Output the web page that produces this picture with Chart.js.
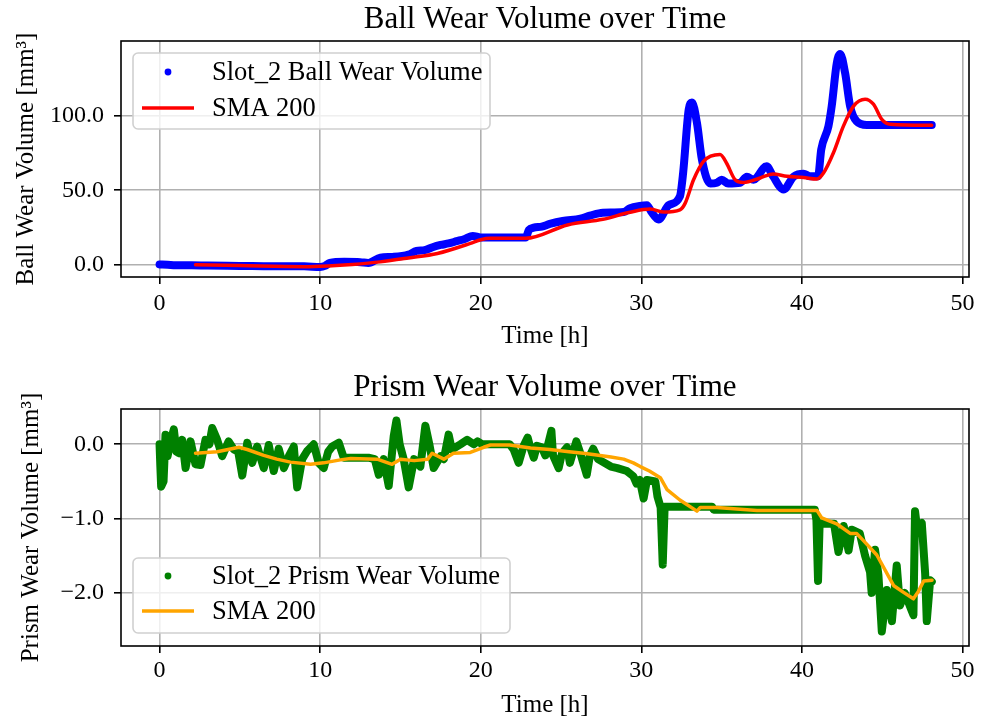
<!DOCTYPE html>
<html><head><meta charset="utf-8">
<script src="https://cdn.jsdelivr.net/npm/chart.js@4.4.1/dist/chart.umd.min.js"></script>
<style>
html,body{margin:0;padding:0;background:#fff;}
#wrap{position:relative;width:988px;height:718px;overflow:hidden;}
.cv{position:absolute;left:0;}
</style></head><body>
<div id="wrap">
<canvas id="c1" class="cv" width="988" height="359" style="top:0"></canvas>
<canvas id="c2" class="cv" width="988" height="359" style="top:359px"></canvas>
</div>
<script>
// ---------- data ----------
const TIME_TICKS = [0, 10, 20, 30, 40, 50];
const BALL_TICKS = [0, 50, 100];
const PRISM_TICKS = [0, -1, -2];

const BALL_TIME = [0, 0.5, 1, 2, 3, 5, 7, 9, 10, 10.3, 10.6, 11.5, 12.5, 13, 13.75, 14.5, 15.5, 16, 16.5, 17, 17.5, 18, 18.5, 19, 19.5, 20, 22.8, 23.0, 23.3, 23.8, 24.3, 25.1, 26.2, 26.8, 27.6, 28.9, 29.3, 29.9, 30.35, 30.6, 31.07, 31.7, 32.4, 32.6, 32.95, 33.15, 33.46, 33.77, 34.3, 34.7, 35.0, 35.4, 36.15, 36.57, 36.98, 37.8, 38.2, 38.85, 39.5, 40.1, 40.5, 41.0, 41.2, 41.65, 41.85, 42.17, 42.38, 42.69, 43.0, 43.4, 44.04, 48.08];
const BALL_VOLUME = [0.5, 0.3, 0, 0, -0.3, -0.5, -0.8, -0.8, -1.2, -0.5, 1.5, 2.2, 2.0, 1.5, 5, 5.5, 7, 9.5, 10, 12, 13.5, 14.5, 16, 17.5, 19.5, 18.5, 18.5, 23.5, 25, 25.7, 27.5, 29.5, 31, 33, 35, 35.5, 38, 39.5, 40, 36, 30.5, 40, 45.9, 61.5, 104, 108.5, 95, 70.5, 54.5, 55, 57, 54.5, 55, 59, 57, 66, 59.3, 50.5, 59.3, 61, 59.3, 59.3, 77.2, 92.8, 106, 135, 141, 128, 106, 96, 93.5, 93.5];

const BALL_SMA_TIME = [2.24, 5, 9, 10.5, 12, 13.75, 15.5, 17.3, 19.35, 20, 20.6, 22.8, 25.4, 27.6, 29.3, 30.55, 31.4, 32.4, 32.73, 33.25, 33.87, 34.9, 35.3, 35.84, 36.36, 37.4, 38.2, 39.06, 40.1, 40.93, 41.34, 41.96, 42.58, 43.2, 43.93, 44.45, 44.97, 45.5, 48.08];
const BALL_SMA = [0.2, -0.3, -1, -0.5, 0.5, 2.2, 4.8, 7.8, 14.5, 17, 17.9, 17.9, 26.8, 30.6, 35.3, 37.4, 35.4, 36.9, 41.4, 57, 69.3, 73.8, 68.2, 57, 55.2, 58.2, 60.9, 59.3, 58.5, 57.5, 61.5, 75, 92.8, 106, 110.7, 107.4, 97.3, 94, 93.3];

const PRISM_TIME = [0, 0.05, 0.1, 0.25, 0.37, 0.5, 0.7, 0.89, 1.05, 1.2, 1.41, 1.62, 1.93, 2.24, 2.55, 2.86, 3.1, 3.28, 3.59, 3.9, 4.3, 4.62, 4.9, 5.15, 5.46, 5.77, 6.08, 6.49, 6.8, 7.11, 7.42, 7.74, 8.05, 8.36, 8.57, 8.88, 9.19, 9.6, 9.91, 10.22, 10.5, 10.75, 11.16, 11.47, 12.2, 13.0, 13.4, 13.65, 13.95, 14.27, 14.58, 14.75, 14.95, 15.2, 15.51, 15.85, 16.24, 16.55, 16.8, 17.07, 17.5, 17.7, 18.0, 18.2, 18.73, 19.15, 19.56, 19.8, 20.1, 21.8, 22.05, 22.36, 22.67, 22.92, 23.08, 23.3, 23.5, 23.8, 24.02, 24.4, 24.5, 24.85, 25.06, 25.37, 25.55, 25.95, 26.2, 26.6, 26.8, 27.0, 27.3, 28.1, 28.5, 29.1, 29.5, 29.7, 29.9, 30.14, 30.35, 30.87, 31.0, 31.2, 31.33, 31.45, 34.4, 34.5, 40.8, 40.9, 41.0, 41.1, 41.6, 42.0, 42.27, 42.6, 42.9, 43.1, 43.6, 43.93, 44.24, 44.34, 44.55, 44.76, 44.97, 45.28, 45.6, 45.9, 46.1, 46.4, 46.76, 46.94, 47.04, 47.15, 47.46, 47.67, 47.77, 47.98, 48.08];
const PRISM_VOLUME = [0.0, -0.3, -0.57, -0.5, 0.13, -0.16, 0.05, 0.2, -0.1, -0.12, 0.06, -0.32, 0.04, -0.27, -0.28, 0.06, 0.0, 0.22, 0.06, -0.16, 0.04, -0.07, -0.1, -0.42, 0.02, -0.25, -0.03, -0.32, -0.01, -0.36, -0.06, -0.32, -0.16, -0.03, -0.58, -0.2, -0.09, 0.0, -0.25, -0.32, -0.1, -0.03, 0.02, -0.18, -0.18, -0.18, -0.2, -0.41, -0.2, -0.56, 0.11, 0.32, 0.0, -0.2, -0.58, -0.2, -0.3, 0.25, 0.0, -0.32, -0.16, -0.2, 0.13, -0.07, 0.0, 0.06, 0.0, 0.04, 0.0, 0.0, -0.07, -0.25, -0.02, 0.09, -0.04, -0.18, -0.02, -0.04, -0.15, 0.18, -0.15, -0.32, -0.12, -0.04, -0.25, 0.04, -0.12, -0.41, -0.15, -0.06, -0.2, -0.3, -0.32, -0.36, -0.43, -0.53, -0.48, -0.73, -0.48, -0.5, -0.7, -0.85, -1.62, -0.84, -0.84, -0.88, -0.88, -1.02, -1.84, -1.06, -1.07, -1.07, -1.45, -1.1, -1.43, -1.15, -1.2, -1.5, -1.72, -2.0, -1.42, -1.76, -2.52, -1.96, -2.38, -1.63, -2.17, -2.0, -2.2, -2.3, -0.9, -1.1, -1.06, -1.74, -2.38, -1.83, -1.85];

const PRISM_SMA_TIME = [2.24, 3.59, 4.94, 5.46, 6.49, 7.3, 8.15, 9.4, 10.22, 11.26, 11.9, 13.55, 14.48, 15.0, 15.85, 16.7, 16.97, 17.7, 18.3, 19.35, 20.18, 20.6, 21.8, 23.1, 24.3, 25.5, 26.4, 27.1, 28.1, 28.9, 29.5, 29.93, 30.5, 31.18, 31.6, 32.4, 33.46, 33.67, 34.7, 37.2, 40.93, 41.23, 42.16, 43.0, 43.4, 43.8, 44.66, 45.7, 46.3, 46.94, 47.25, 47.58, 48.1];
const PRISM_SMA = [-0.12, -0.1, -0.04, -0.07, -0.15, -0.2, -0.24, -0.27, -0.25, -0.21, -0.19, -0.2, -0.27, -0.2, -0.22, -0.2, -0.12, -0.2, -0.12, -0.11, -0.04, -0.01, -0.01, -0.05, -0.07, -0.1, -0.12, -0.14, -0.17, -0.2, -0.25, -0.3, -0.36, -0.45, -0.61, -0.75, -0.9, -0.85, -0.85, -0.89, -0.89, -0.99, -1.07, -1.2, -1.2, -1.29, -1.49, -1.9, -1.99, -2.08, -1.98, -1.84, -1.83];

// ---------- helpers ----------
const SERIF = "'Liberation Serif', 'Times New Roman', serif";
const pts = (xs, ys) => xs.map((x, i) => ({x: x, y: ys[i]}));
const fmt1 = v => { const s = Math.abs(v).toFixed(1); return (v < -1e-9 ? '\u2212' : '') + s; };

function roundRect(ctx, x, y, w, h, r) {
  ctx.beginPath();
  ctx.moveTo(x + r, y);
  ctx.lineTo(x + w - r, y); ctx.arcTo(x + w, y, x + w, y + r, r);
  ctx.lineTo(x + w, y + h - r); ctx.arcTo(x + w, y + h, x + w - r, y + h, r);
  ctx.lineTo(x + r, y + h); ctx.arcTo(x, y + h, x, y + h - r, r);
  ctx.lineTo(x, y + r); ctx.arcTo(x, y, x + r, y, r);
  ctx.closePath();
}

const framePlugin = {
  id: 'frameLegend',
  afterDraw(chart, args, o) {
    const ctx = chart.ctx, a = chart.chartArea;
    ctx.save();
    ctx.strokeStyle = '#000'; ctx.lineWidth = 1.6;
    ctx.strokeRect(a.left, a.top, a.right - a.left, a.bottom - a.top);
    // legend box
    roundRect(ctx, o.x, o.y, o.w, o.h, 5);
    ctx.fillStyle = 'rgba(255,255,255,0.8)'; ctx.fill();
    ctx.strokeStyle = '#d0d0d0'; ctx.lineWidth = 1.6; ctx.stroke();
    ctx.font = '26.5px ' + SERIF; ctx.fillStyle = '#000';
    ctx.textBaseline = 'middle'; ctx.textAlign = 'left';
    const ds = chart.data.datasets;
    o.order.forEach((di, i) => {
      const d = ds[di];
      const cy = o.y + o.first + i * o.step;
      if (d.legendKind === 'dot') {
        ctx.fillStyle = d.borderColor;
        ctx.beginPath(); ctx.arc(168, cy, 3.4, 0, Math.PI * 2); ctx.fill();
      } else {
        ctx.strokeStyle = d.borderColor; ctx.lineWidth = 3.5;
        ctx.beginPath(); ctx.moveTo(142, cy); ctx.lineTo(194, cy); ctx.stroke();
      }
      ctx.fillStyle = '#000';
      ctx.fillText(d.label, 212, cy + 1);
    });
    ctx.restore();
  }
};

function makeChart(id, c) {
  return new Chart(document.getElementById(id), {
    type: 'line',
    data: {
      datasets: [
        {label: 'SMA 200', data: pts(c.smaT, c.smaV), borderColor: c.smaColor, borderWidth: 3.5,
         pointRadius: 0, tension: 0, cubicInterpolationMode: c.smaSmooth ? 'monotone' : 'default',
         legendKind: 'line', order: 0, borderJoinStyle: 'round', borderCapStyle: 'round'},
        {label: c.rawLabel, data: pts(c.rawT, c.rawV), borderColor: c.rawColor, backgroundColor: c.rawColor,
         borderWidth: 8, pointRadius: 0, tension: 0, cubicInterpolationMode: c.rawSmooth ? 'monotone' : 'default',
         legendKind: 'dot', order: 1, borderJoinStyle: 'round', borderCapStyle: 'round'}
      ]
    },
    options: {
      responsive: false, animation: false, events: [],
      layout: {padding: {left: 0, right: 19, top: 0, bottom: 0}},
      plugins: {
        legend: {display: false}, tooltip: {enabled: false},
        title: {display: true, text: c.title, fullSize: false, color: '#000',
                font: {family: SERIF, size: 31, weight: 'normal', lineHeight: 1},
                padding: {top: c.titlePadTop, bottom: c.titlePadBottom}},
        frameLegend: c.legend
      },
      scales: {
        x: {
          type: 'linear', min: -2.4, max: 50.4,
          afterBuildTicks: s => { s.ticks = TIME_TICKS.map(v => ({value: v})); },
          afterFit: s => { s.height = c.xHeight; },
          border: {display: false},
          grid: {color: '#b0b0b0', lineWidth: 1.6, tickColor: '#000', tickWidth: 1.6, tickLength: 7, drawTicks: true},
          ticks: {color: '#000', font: {family: SERIF, size: 24, lineHeight: 1.2}, padding: c.xTickPad,
                  maxRotation: 0, autoSkip: false, callback: v => String(v)},
          title: {display: true, text: 'Time [h]', color: '#000',
                  font: {family: SERIF, size: 25, lineHeight: 1}, padding: {top: 0, bottom: c.xTitlePad}}
        },
        y: {
          type: 'linear', min: c.yMin, max: c.yMax,
          afterBuildTicks: s => { s.ticks = c.yTicks.map(v => ({value: v})); },
          afterFit: s => { s.width = 121; },
          border: {display: false},
          grid: {color: '#b0b0b0', lineWidth: 1.6, tickColor: '#000', tickWidth: 1.6, tickLength: 7, drawTicks: true},
          ticks: {color: '#000', font: {family: SERIF, size: 24}, padding: 10, autoSkip: false, callback: fmt1},
          title: {display: true, text: c.yLabel, color: '#000',
                  font: {family: SERIF, size: 25, lineHeight: 1}, padding: {top: c.yTitlePad, bottom: 0}}
        }
      }
    },
    plugins: [framePlugin]
  });
}

makeChart('c1', {
  title: 'Ball Wear Volume over Time', titlePadTop: 4.5, titlePadBottom: 5.5,
  rawLabel: 'Slot_2 Ball Wear Volume', rawT: BALL_TIME, rawV: BALL_VOLUME, rawColor: '#0000ff', rawSmooth: true,
  smaT: BALL_SMA_TIME, smaV: BALL_SMA, smaColor: '#ff0000', smaSmooth: true,
  yMin: -7.9, yMax: 149.6, yTicks: BALL_TICKS, yLabel: 'Ball Wear Volume [mm\u00b3]', yTitlePad: 14,
  xHeight: 82, xTickPad: 5, xTitlePad: 10.5,
  legend: {x: 133, y: 53, w: 357, h: 76, first: 19, step: 36, order: [1, 0]}
});
makeChart('c2', {
  title: 'Prism Wear Volume over Time', titlePadTop: 13.3, titlePadBottom: 5.7,
  rawLabel: 'Slot_2 Prism Wear Volume', rawT: PRISM_TIME, rawV: PRISM_VOLUME, rawColor: '#008000', rawSmooth: false,
  smaT: PRISM_SMA_TIME, smaV: PRISM_SMA, smaColor: '#ffa500', smaSmooth: false,
  yMin: -2.715, yMax: 0.475, yTicks: PRISM_TICKS, yLabel: 'Prism Wear Volume [mm\u00b3]', yTitlePad: 19,
  xHeight: 72, xTickPad: 3, xTitlePad: 0.5,
  legend: {x: 133, y: 199, w: 377, h: 75, first: 18, step: 35, order: [1, 0]}
});
</script>
</body></html>
